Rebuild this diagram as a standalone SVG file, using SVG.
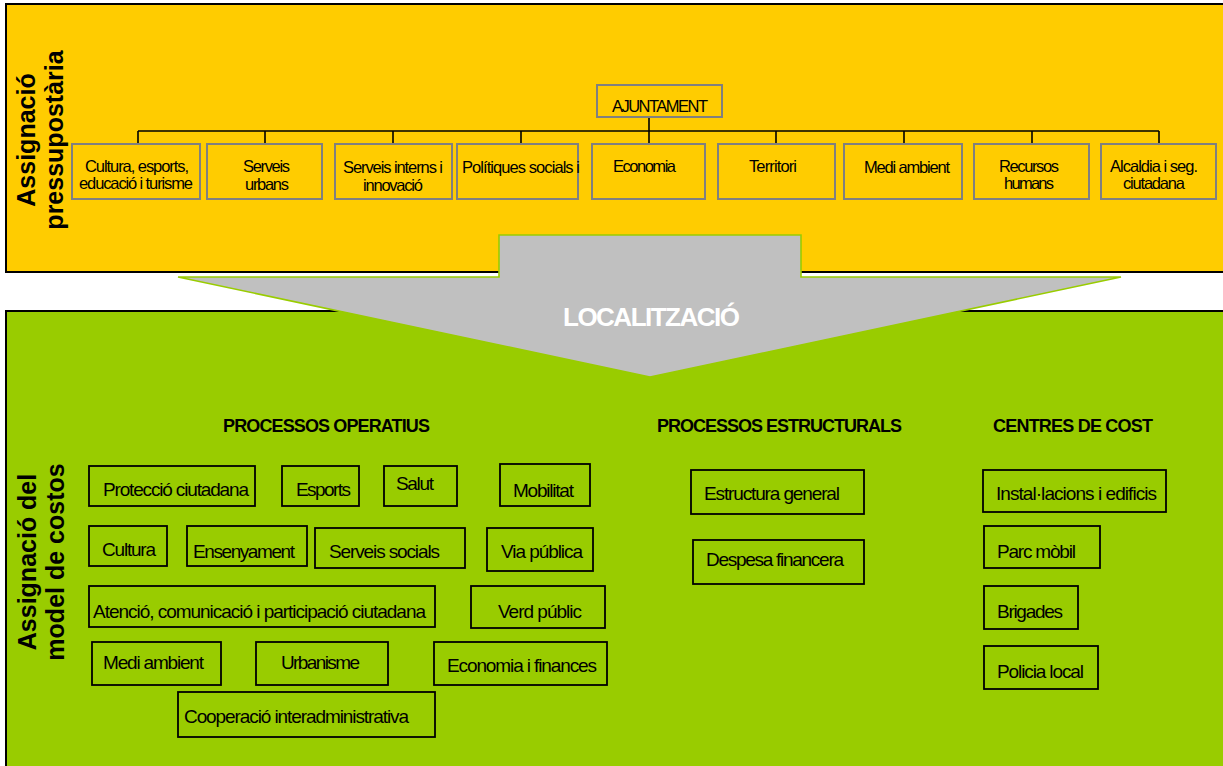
<svg xmlns="http://www.w3.org/2000/svg" width="1223" height="766" viewBox="0 0 1223 766">
<style>
.panel{stroke:#000;stroke-width:2}
.ob{fill:none;stroke:#808080;stroke-width:2}
.gb{fill:none;stroke:#000;stroke-width:1.8}
.t{font-family:"Liberation Sans",Arial,sans-serif;fill:#000}
.ot{font-size:16.5px}
.gt{font-size:19px}
.h{font-size:18px;font-weight:bold}
.title{font-family:"Liberation Sans",Arial,sans-serif;font-size:25px;font-weight:bold;text-anchor:middle;fill:#000}
.conn{stroke:#000;stroke-width:1.6;fill:none}
</style>
<rect width="1223" height="766" fill="#fff"/>
<g id="panel-pressupost">
<rect class="panel" x="6" y="4" width="1230" height="268" fill="#FFCC00"/>
<text class="title" transform="translate(35,140) rotate(-90)">Assignació</text>
<text class="title" transform="translate(63,140) rotate(-90)">pressupostària</text>
</g>
<g id="panel-costos">
<rect class="panel" x="6" y="311" width="1230" height="470" fill="#99CC00"/>
<text class="title" transform="translate(36,562) rotate(-90)">Assignació del</text>
<text class="title" transform="translate(64,562) rotate(-90)">model de costos</text>
</g>
<g id="localitzacio">
<polygon points="499,235 801,235 801,277 1121,277 650,377 178,277 499,277" fill="#C0C0C0" stroke="#99CC00" stroke-width="1.6"/>
<text x="563" y="326" textLength="177" lengthAdjust="spacing" style="font-family:'Liberation Sans',Arial,sans-serif;font-size:26px;font-weight:bold;fill:#fff">LOCALITZACIÓ</text>
</g>
<g id="connectors">
<path class="conn" d="M138,131 H1159 M649,117 V144 M138,131 V144 M265,131 V144 M393,131 V144 M521,131 V144 M776,131 V144 M904,131 V144 M1032,131 V144 M1159,131 V144"/>
</g>
<g id="ajuntament">
<rect class="ob" x="597" y="85" width="125" height="32"/>
<text class="t ot" x="612" y="112" textLength="96" lengthAdjust="spacing">AJUNTAMENT</text>
</g>
<g id="o-cultura">
<rect class="ob" x="72" y="144" width="128" height="55"/>
<text class="t ot" x="85" y="171.5" textLength="104" lengthAdjust="spacing">Cultura, esports,</text>
<text class="t ot" x="79" y="188.5" textLength="114" lengthAdjust="spacing">educació i turisme</text>
</g>
<g id="o-serveis-urbans">
<rect class="ob" x="207" y="144" width="115" height="55"/>
<text class="t ot" x="243" y="171.5" textLength="47" lengthAdjust="spacing">Serveis</text>
<text class="t ot" x="245" y="189.5" textLength="44" lengthAdjust="spacing">urbans</text>
</g>
<g id="o-serveis-interns">
<rect class="ob" x="335" y="144" width="117" height="55"/>
<text class="t ot" x="343" y="173" textLength="100" lengthAdjust="spacing">Serveis interns i</text>
<text class="t ot" x="363" y="191" textLength="60" lengthAdjust="spacing">innovació</text>
</g>
<g id="o-politiques">
<rect class="ob" x="457" y="144" width="121" height="55"/>
<text class="t ot" x="462" y="173" textLength="118" lengthAdjust="spacing">Polítiques socials i</text>
</g>
<g id="o-economia">
<rect class="ob" x="592" y="144" width="113" height="55"/>
<text class="t ot" x="613" y="171.5" textLength="63" lengthAdjust="spacing">Economia</text>
</g>
<g id="o-territori">
<rect class="ob" x="718" y="144" width="117" height="55"/>
<text class="t ot" x="749" y="171.5" textLength="48" lengthAdjust="spacing">Territori</text>
</g>
<g id="o-medi">
<rect class="ob" x="844" y="144" width="118" height="55"/>
<text class="t ot" x="864" y="173" textLength="86" lengthAdjust="spacing">Medi ambient</text>
</g>
<g id="o-recursos">
<rect class="ob" x="974" y="144" width="115" height="55"/>
<text class="t ot" x="999" y="171.5" textLength="60" lengthAdjust="spacing">Recursos</text>
<text class="t ot" x="1004" y="189" textLength="50" lengthAdjust="spacing">humans</text>
</g>
<g id="o-alcaldia">
<rect class="ob" x="1101" y="144" width="115" height="55"/>
<text class="t ot" x="1110" y="171.5" textLength="88" lengthAdjust="spacing">Alcaldia i seg.</text>
<text class="t ot" x="1123" y="189" textLength="62" lengthAdjust="spacing">ciutadana</text>
</g>
<g id="headings">
<text class="t h" x="223" y="432" textLength="207" lengthAdjust="spacing">PROCESSOS OPERATIUS</text>
<text class="t h" x="657" y="432" textLength="245" lengthAdjust="spacing">PROCESSOS ESTRUCTURALS</text>
<text class="t h" x="993" y="432" textLength="160" lengthAdjust="spacing">CENTRES DE COST</text>
</g>
<g id="g-proteccio"><rect class="gb" x="89" y="466" width="166" height="40"/><text class="t gt" x="103" y="496" textLength="146" lengthAdjust="spacing">Protecció ciutadana</text></g>
<g id="g-esports"><rect class="gb" x="282" y="466" width="77" height="40"/><text class="t gt" x="296" y="496" textLength="55" lengthAdjust="spacing">Esports</text></g>
<g id="g-salut"><rect class="gb" x="384" y="466" width="73" height="40"/><text class="t gt" x="396" y="490" textLength="38" lengthAdjust="spacing">Salut</text></g>
<g id="g-mobilitat"><rect class="gb" x="500" y="464" width="90" height="42"/><text class="t gt" x="513" y="497" textLength="61" lengthAdjust="spacing">Mobilitat</text></g>
<g id="g-cultura"><rect class="gb" x="89" y="526" width="78" height="40"/><text class="t gt" x="102" y="556" textLength="54" lengthAdjust="spacing">Cultura</text></g>
<g id="g-ensenyament"><rect class="gb" x="187" y="526" width="120" height="40"/><text class="t gt" x="193" y="558" textLength="102" lengthAdjust="spacing">Ensenyament</text></g>
<g id="g-serveis-socials"><rect class="gb" x="315" y="528" width="150" height="40"/><text class="t gt" x="329" y="558" textLength="111" lengthAdjust="spacing">Serveis socials</text></g>
<g id="g-via"><rect class="gb" x="487" y="528" width="106" height="43"/><text class="t gt" x="501" y="558" textLength="82" lengthAdjust="spacing">Via pública</text></g>
<g id="g-atencio"><rect class="gb" x="89" y="586" width="346" height="41"/><text class="t gt" x="93" y="618" textLength="333" lengthAdjust="spacing">Atenció, comunicació i participació ciutadana</text></g>
<g id="g-verd"><rect class="gb" x="471" y="586" width="134" height="42"/><text class="t gt" x="498" y="618" textLength="84" lengthAdjust="spacing">Verd públic</text></g>
<g id="g-medi"><rect class="gb" x="92" y="642" width="129" height="43"/><text class="t gt" x="103" y="669" textLength="101" lengthAdjust="spacing">Medi ambient</text></g>
<g id="g-urbanisme"><rect class="gb" x="256" y="642" width="132" height="43"/><text class="t gt" x="281" y="669" textLength="79" lengthAdjust="spacing">Urbanisme</text></g>
<g id="g-economia"><rect class="gb" x="434" y="642" width="173" height="43"/><text class="t gt" x="447" y="672" textLength="150" lengthAdjust="spacing">Economia i finances</text></g>
<g id="g-cooperacio"><rect class="gb" x="178" y="692" width="257" height="45"/><text class="t gt" x="184" y="723" textLength="225" lengthAdjust="spacing">Cooperació interadministrativa</text></g>
<g id="g-estructura"><rect class="gb" x="691" y="470" width="173" height="44"/><text class="t gt" x="704" y="500" textLength="136" lengthAdjust="spacing">Estructura general</text></g>
<g id="g-despesa"><rect class="gb" x="693" y="540" width="171" height="44"/><text class="t gt" x="706" y="566" textLength="138" lengthAdjust="spacing">Despesa financera</text></g>
<g id="g-installacions"><rect class="gb" x="983" y="470" width="183" height="42"/><text class="t gt" x="996" y="500" textLength="161" lengthAdjust="spacing">Instal·lacions i edificis</text></g>
<g id="g-parc"><rect class="gb" x="984" y="526" width="116" height="42"/><text class="t gt" x="997" y="558" textLength="79" lengthAdjust="spacing">Parc mòbil</text></g>
<g id="g-brigades"><rect class="gb" x="984" y="586" width="94" height="43"/><text class="t gt" x="997" y="618" textLength="66" lengthAdjust="spacing">Brigades</text></g>
<g id="g-policia"><rect class="gb" x="984" y="646" width="114" height="43"/><text class="t gt" x="997" y="678" textLength="87" lengthAdjust="spacing">Policia local</text></g>
</svg>
